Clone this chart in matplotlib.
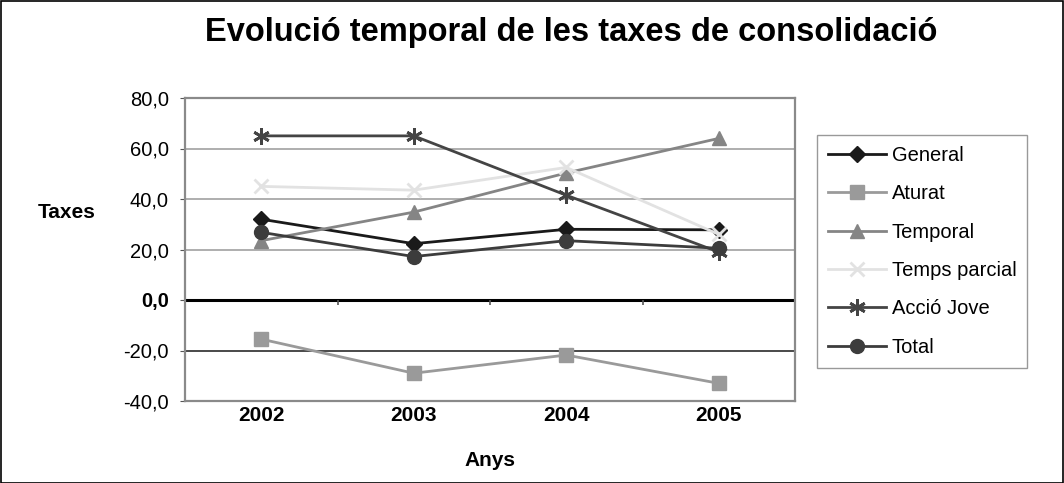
# -*- coding: utf-8 -*-
"""Evolució temporal de les taxes de consolidació (2002-2005)."""
import matplotlib
matplotlib.use('Agg')
import matplotlib.pyplot as plt
from matplotlib.patches import Rectangle

plt.rcParams['font.family'] = ['Liberation Sans', 'DejaVu Sans']

anys = ['2002', '2003', '2004', '2005']
general = [32.0, 22.3, 28.0, 27.8]
aturat = [-15.5, -29.0, -21.8, -33.0]
temporal = [23.5, 34.8, 50.3, 64.0]
temps_parcial = [45.0, 43.5, 52.5, 26.0]
accio_jove = [65.0, 65.0, 41.5, 19.0]
total = [26.8, 17.2, 23.5, 20.5]

series = [
    ('General', general, '#1a1a1a', 'D', 8),
    ('Aturat', aturat, '#9a9a9a', 's', 10),
    ('Temporal', temporal, '#858585', '^', 10),
    ('Temps parcial', temps_parcial, '#e2e2e2', 'x', 10),
    ('Acció Jove', accio_jove, '#444444', (6, 2, 0), 12),
    ('Total', total, '#3c3c3c', 'o', 10),
]

fig = plt.figure(figsize=(10.64, 4.83), dpi=100)
ax = fig.add_axes([185 / 1064, 1 - 401 / 483, 610 / 1064, 303 / 483])

x = range(len(anys))
for label, vals, col, mk, ms in series:
    mew = 2.0 if mk == 'x' or isinstance(mk, tuple) else 1.0
    ax.plot(x, vals, color=col, lw=2, marker=mk, ms=ms, mew=mew,
            mec=col, mfc=col, label=label, zorder=3)

ax.set_xlim(-0.5, 3.5)
ax.set_ylim(-40, 80)
yt = [-40, -20, 0, 20, 40, 60, 80]
ax.set_yticks(yt)
ax.set_yticklabels([f'{v:.1f}'.replace('.', ',') for v in yt], fontsize=14.5)
for t in ax.get_yticklabels():
    if t.get_text() == '0,0':
        t.set_fontweight('bold')
ax.tick_params(axis='y', direction='out', length=3.6, color='#555555', pad=8)

ax.set_xticks(list(x))
ax.set_xticklabels(anys, fontsize=15, fontweight='bold')
ax.tick_params(axis='x', length=0, pad=3.5)

# gridlines
for v in [20, 40, 60, 80]:
    ax.axhline(v, color='#a8a8a8', lw=1.3, zorder=1)
ax.axhline(-20, color='#3a3a3a', lw=1.3, zorder=1)
ax.axhline(0, color='black', lw=2.2, zorder=2)
# category separators on the zero line
ax.vlines([0.5, 1.5, 2.5], -2.0, 0, color='#555555', lw=1.2, zorder=2)

for s in ax.spines.values():
    s.set_color('#8a8a8a')
    s.set_linewidth(1.6)

fig.text(67 / 1064, 1 - 213 / 483, 'Taxes', fontsize=15, fontweight='bold',
         ha='center', va='center')
fig.text(490 / 1064, 1 - 460 / 483, 'Anys', fontsize=15, fontweight='bold',
         ha='center', va='center')
fig.text(571 / 1064, 1 - 32 / 483, 'Evolució temporal de les taxes de consolidació',
         fontsize=23.5, fontweight='bold', ha='center', va='center')

leg = fig.legend(loc='upper left', bbox_to_anchor=(817 / 1064, 1 - 135 / 483),
                 fontsize=14.5, frameon=True, fancybox=False, edgecolor='#808080',
                 handlelength=2.9, handletextpad=0.25, labelspacing=0.96,
                 borderpad=0.55, borderaxespad=0)
leg.get_frame().set_linewidth(1.0)

fig.patches.append(Rectangle((0.001, 0.001), 0.998, 0.997, transform=fig.transFigure,
                             fill=False, edgecolor='black', lw=1.2))

fig.savefig('out.png', dpi=100)
